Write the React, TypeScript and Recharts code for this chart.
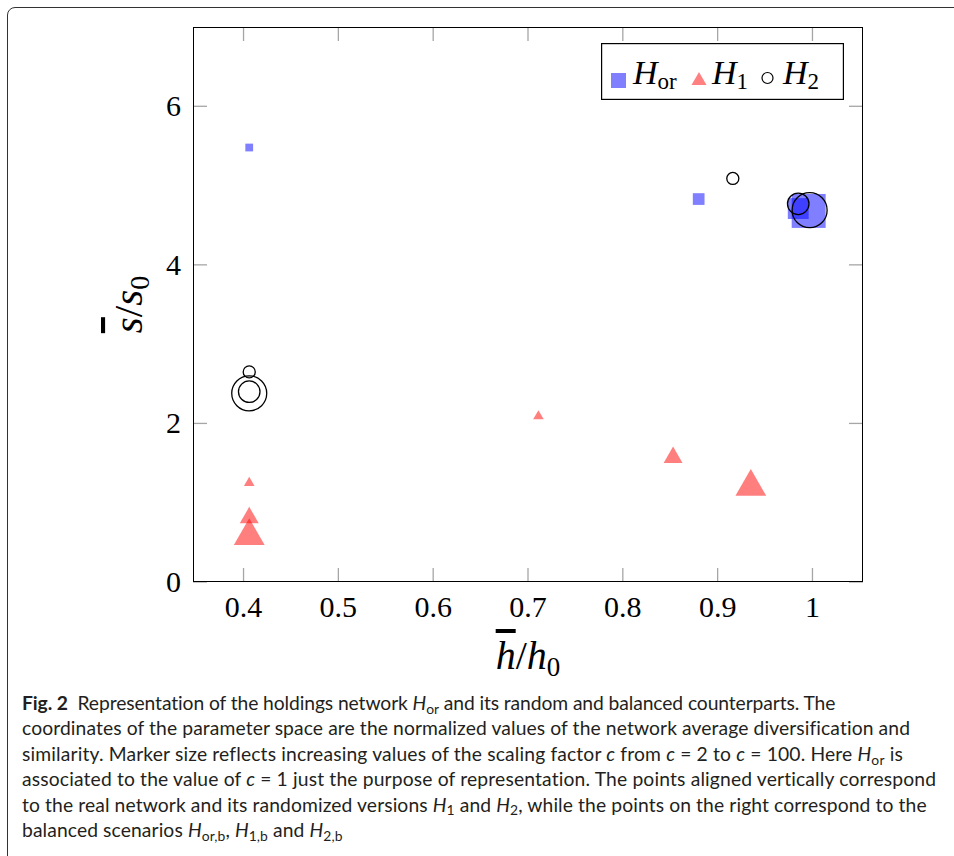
import React from 'react'
import { ScatterChart, Scatter, XAxis, YAxis, Legend } from 'recharts'

// axis ticks
const xTicks = [0.4, 0.5, 0.6, 0.7, 0.8, 0.9, 1]
const yTicks = [0, 2, 4, 6]

// normalized diversification (h/h0), similarity (s/s0) and scaling factor c
const horH = [0.406, 0.88, 0.985, 0.996]
const horS = [5.48, 4.83, 4.71, 4.68]
const horC = [1, 2, 10, 100]

const h1H = [0.406, 0.406, 0.406, 0.711, 0.853, 0.935]
const h1S = [1.25, 0.81, 0.58, 2.09, 1.57, 1.2]
const h1C = [2, 10, 100, 2, 10, 100]

const h2H = [0.406, 0.406, 0.406, 0.916, 0.985, 0.997]
const h2S = [2.65, 2.4, 2.38, 5.09, 4.77, 4.69]
const h2C = [2, 10, 100, 2, 10, 100]

const toPoints = (h: number[], s: number[], c: number[]) =>
  h.map((v, i) => ({ h: v, s: s[i], c: c[i] }))

const horData = toPoints(horH, horS, horC)
const h1Data = toPoints(h1H, h1S, h1C)
const h2Data = toPoints(h2H, h2S, h2C)

const PLOT_W = 670
const PLOT_H = 555
const TICK_LEN = 14
const SERIF = '"Liberation Serif", "DejaVu Serif", serif'

// marker size grows with log(c)
const markerSize = (c: number) => 8 + 13.5 * Math.log10(c)

const SquareMark = (props: any) => {
  const d = markerSize(props.payload.c) * 0.97
  return <rect x={props.cx - d / 2} y={props.cy - d / 2} width={d} height={d} fill="#0000ff" fillOpacity={0.5} />
}

const TriangleMark = (props: any) => {
  const w = markerSize(props.payload.c) * 0.88
  const r = w / Math.sqrt(3)
  const { cx, cy } = props
  const pts = `${cx},${cy - r} ${cx - w / 2},${cy + r / 2} ${cx + w / 2},${cy + r / 2}`
  return <polygon points={pts} fill="#ff0000" fillOpacity={0.5} />
}

const CircleMark = (props: any) => {
  const d = markerSize(props.payload.c)
  return <circle cx={props.cx} cy={props.cy} r={d / 2} fill="none" stroke="#000" strokeWidth={1.3} />
}

const XTick = ({ x, y, payload }: any) => (
  <g>
    <line x1={x} x2={x} y1={y} y2={y - TICK_LEN} stroke="#a6a6a6" strokeWidth={1.3} />
    <line x1={x} x2={x} y1={y - PLOT_H} y2={y - PLOT_H + TICK_LEN} stroke="#a6a6a6" strokeWidth={1.3} />
    <text x={x} y={y + 35} textAnchor="middle" fontFamily={SERIF} fontSize={30} fill="#000">
      {String(payload.value)}
    </text>
  </g>
)

const YTick = ({ x, y, payload }: any) => (
  <g>
    <line x1={x} x2={x + TICK_LEN} y1={y} y2={y} stroke="#a6a6a6" strokeWidth={1.3} />
    <line x1={x + PLOT_W} x2={x + PLOT_W - TICK_LEN} y1={y} y2={y} stroke="#a6a6a6" strokeWidth={1.3} />
    <text x={x - 12} y={y + 10} textAnchor="end" fontFamily={SERIF} fontSize={30} fill="#000">
      {String(payload.value)}
    </text>
  </g>
)

const XLabel = ({ viewBox }: any) => (
  <text x={viewBox.x + viewBox.width / 2} y={viewBox.y + 87} textAnchor="middle" fontFamily={SERIF} fontSize={40} fill="#000">
    <tspan fontStyle="italic" textDecoration="overline">h</tspan>
    <tspan>/</tspan>
    <tspan fontStyle="italic">h</tspan>
    <tspan fontSize={27} dy={7}>0</tspan>
  </text>
)

const YLabel = ({ viewBox }: any) => {
  const cx = 142
  const cy = viewBox.y + viewBox.height / 2
  return (
    <text x={cx} y={cy} transform={`rotate(-90, ${cx}, ${cy})`} textAnchor="middle" fontFamily={SERIF} fontSize={41} fill="#000">
      <tspan fontStyle="italic" textDecoration="overline">s</tspan>
      <tspan>/</tspan>
      <tspan fontStyle="italic">s</tspan>
      <tspan fontSize={28} dy={7}>0</tspan>
    </text>
  )
}

const LegendBox = () => (
  <svg width={243} height={57}>
    <rect x={0.6} y={0.6} width={241.8} height={55.8} fill="#fff" stroke="#000" strokeWidth={1.2} />
    <rect x={10} y={30} width={15} height={15} fill="#8080ff" />
    <text x={32} y={41} fontFamily={SERIF} fontSize={34} fill="#000">
      <tspan fontStyle="italic">H</tspan>
      <tspan fontSize={23} dy={5}>or</tspan>
    </text>
    <polygon points="98,29 90.5,42 105.5,42" fill="#ff8080" />
    <text x={111} y={41} fontFamily={SERIF} fontSize={34} fill="#000">
      <tspan fontStyle="italic">H</tspan>
      <tspan fontSize={23} dy={5}>1</tspan>
    </text>
    <circle cx={166.5} cy={35} r={5.5} fill="none" stroke="#000" strokeWidth={1.2} />
    <text x={182} y={41} fontFamily={SERIF} fontSize={34} fill="#000">
      <tspan fontStyle="italic">H</tspan>
      <tspan fontSize={23} dy={5}>2</tspan>
    </text>
  </svg>
)

const subStyle = { fontSize: '0.72em', verticalAlign: 'baseline', position: 'relative' as const, top: '0.28em', lineHeight: 0 }

const capH = (sub: string) => (
  <span><i>H</i><sub style={subStyle}>{sub}</sub></span>
)

const captionLines = [
  <><b>Fig. 2</b>&nbsp; Representation of the holdings network {capH('or')} and its random and balanced counterparts. The</>,
  <>coordinates of the parameter space are the normalized values of the network average diversification and</>,
  <>similarity. Marker size reflects increasing values of the scaling factor <i>c</i> from <i>c</i> = 2 to <i>c</i> = 100. Here {capH('or')} is</>,
  <>associated to the value of <i>c</i> = 1 just the purpose of representation. The points aligned vertically correspond</>,
  <>to the real network and its randomized versions {capH('1')} and {capH('2')}, while the points on the right correspond to the</>,
  <>balanced scenarios {capH('or,b')}, {capH('1,b')} and {capH('2,b')}</>,
]
const captionSpacing = [-0.1, 0.1, 0.15, 0.15, 0.1, 0.1]

export default function App() {
  return (
    <div style={{ position: 'absolute', left: 0, top: 0, width: 954, height: 856, overflow: 'hidden', background: '#fff' }}>
      <div style={{
        position: 'absolute', left: 7, top: 7, width: 1000, height: 900,
        border: '1.5px solid #333', borderRadius: 8,
      }} />
      <div style={{
        position: 'absolute', left: 22, top: 690, fontFamily: 'Lato, "Open Sans", sans-serif',
        fontSize: 19.3, lineHeight: '25.4px', color: '#231f20', whiteSpace: 'nowrap',
      }}>
        {captionLines.map((line, i) => (
          <div key={i} style={{ height: 25.4, letterSpacing: captionSpacing[i] }}>{line}</div>
        ))}
      </div>
      <div style={{ position: 'absolute', left: 0, top: 0 }}>
        <ScatterChart width={954} height={700} margin={{ top: 27, right: 91, bottom: 0, left: 0 }}>
          <XAxis type="number" dataKey="h" domain={[0.3467, 1.0533]} ticks={xTicks} interval={0}
            allowDataOverflow height={118} tickSize={0} tickMargin={0} axisLine={false} tick={<XTick />}
            label={{ content: (p: any) => <XLabel {...p} /> }} />
          <YAxis type="number" dataKey="s" domain={[0, 7]} ticks={yTicks} interval={0}
            allowDataOverflow width={193} tickSize={0} tickMargin={0} axisLine={false} tick={<YTick />}
            label={{ content: (p: any) => <YLabel {...p} /> }} />
          <Legend layout="horizontal" verticalAlign="middle" align="center" content={<LegendBox />}
            wrapperStyle={{ top: 43, left: 601, width: 243, height: 57, lineHeight: 0 }} />
          <Scatter name="Hor" data={horData} shape={SquareMark} isAnimationActive={false} />
          <Scatter name="H1" data={h1Data} shape={TriangleMark} isAnimationActive={false} />
          <Scatter name="H2" data={h2Data} shape={CircleMark} isAnimationActive={false} />
        </ScatterChart>
        <div style={{
          position: 'absolute', left: 193, top: 27, width: PLOT_W, height: PLOT_H,
          boxSizing: 'border-box', border: '1.2px solid #000', pointerEvents: 'none',
        }} />
      </div>
    </div>
  )
}
